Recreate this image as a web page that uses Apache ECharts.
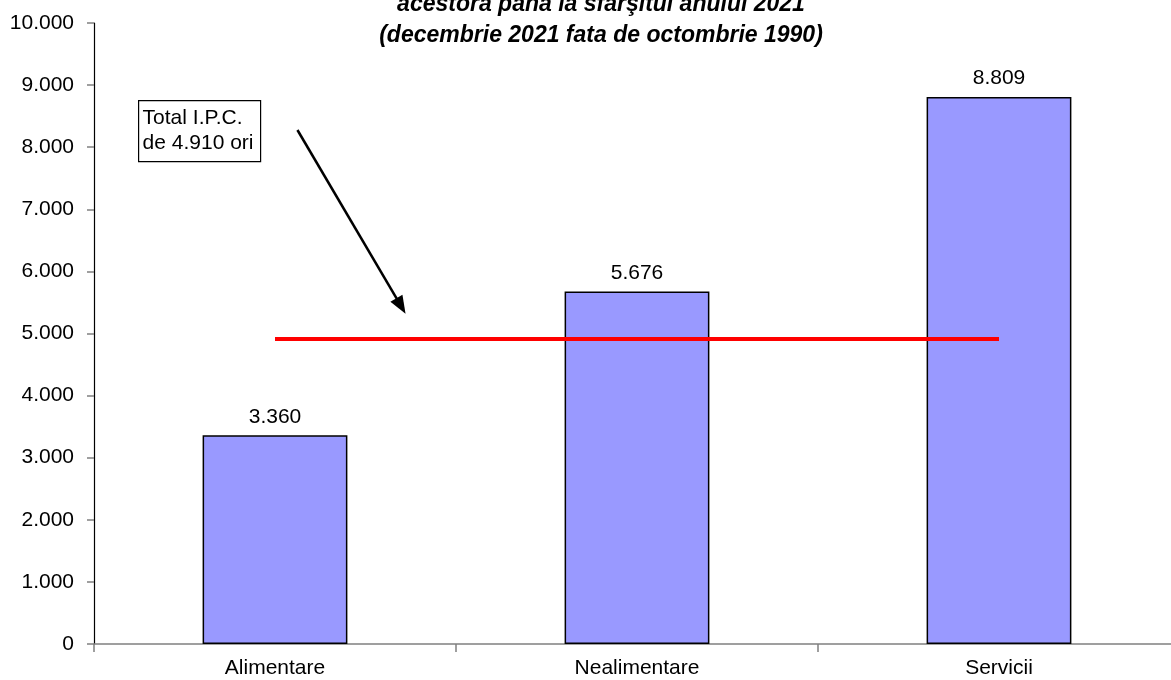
<!DOCTYPE html>
<html><head><meta charset="utf-8">
<script src="https://cdn.jsdelivr.net/npm/echarts@6/dist/echarts.min.js"></script>
<style>html,body{margin:0;padding:0;background:#fff}#c{width:1171px;height:680px}</style>
</head><body><div id="c"></div>
<script>
const categories = ['Alimentare', 'Nealimentare', 'Servicii'];
const values = [3360, 5676, 8809];
const totalIPC = [4910, 4910, 4910];
const yTicks = [0, 1000, 2000, 3000, 4000, 5000, 6000, 7000, 8000, 9000, 10000];
const titleLines = ['acestora pana la sfarşitul anului 2021', '(decembrie 2021 fata de octombrie 1990)'];
const noteText = ['Total I.P.C.', 'de 4.910 ori'];
const arrowFrom = [0.062, 8277];
const arrowTo = [0.348, 5443];

const fmt = v => String(v).replace(/\B(?=(\d{3})+(?!\d))/g, '.');
const FONT = '"Liberation Sans", Arial, sans-serif';

const chart = echarts.init(document.getElementById('c'), null, {renderer: 'canvas'});
chart.setOption({
  animation: false,
  backgroundColor: '#fff',
  title: {
    text: titleLines.join('\n'),
    left: 596, textAlign: 'center', top: -16,
    textStyle: {fontFamily: FONT, fontSize: 23, fontWeight: 'bold', fontStyle: 'italic', lineHeight: 31, color: '#000'}
  },
  grid: {left: 94, width: 1086, top: 23, bottom: 36, containLabel: false, outerBoundsMode: 'none'},
  xAxis: [{
    type: 'category', data: categories,
    axisLine: {lineStyle: {color: '#808080', width: 1.5}},
    axisTick: {show: true, length: 8, lineStyle: {color: '#808080', width: 1.5}},
    axisLabel: {fontFamily: FONT, fontSize: 21, color: '#000', margin: 14},
    splitLine: {show: false}
  }, {
    type: 'value', min: -0.5, max: 2.5, show: false
  }],
  yAxis: {
    type: 'value', min: yTicks[0], max: yTicks[yTicks.length - 1], interval: 1000,
    axisLine: {show: true, onZero: false, lineStyle: {color: '#000', width: 1.2}},
    axisTick: {show: true, length: 7, lineStyle: {color: '#808080', width: 1.5}},
    axisLabel: {fontFamily: FONT, fontSize: 21, color: '#000', margin: 20, formatter: v => fmt(v)},
    splitLine: {show: false}
  },
  series: [{
    type: 'bar', data: values, barWidth: '40%',
    itemStyle: {color: '#9999FF', borderColor: '#000', borderWidth: 1.5},
    label: {show: true, position: 'top', distance: 8, fontFamily: FONT, fontSize: 21, color: '#000', formatter: p => fmt(p.value)}
  }, {
    type: 'line', data: totalIPC, symbol: 'none',
    lineStyle: {color: '#FF0000', width: 4}, z: 5
  }, {
    type: 'line', xAxisIndex: 1, data: [], symbol: 'none',
    markLine: {
      silent: true, symbol: ['none', 'triangle'], symbolSize: [14, 18],
      lineStyle: {color: '#000', width: 2.5, type: 'solid'},
      label: {show: false},
      data: [[{coord: arrowFrom}, {coord: arrowTo}]]
    }
  }],
  graphic: [{
    type: 'group', left: 138, top: 100,
    children: [{
      type: 'rect', shape: {x: 0, y: 0, width: 122, height: 61},
      style: {fill: '#fff', stroke: '#000', lineWidth: 1.2}
    }, {
      type: 'text', left: 4, top: 5,
      style: {text: noteText.join('\n'), font: '21px ' + FONT, lineHeight: 25, fill: '#000'}
    }]
  }]
});
</script></body></html>
